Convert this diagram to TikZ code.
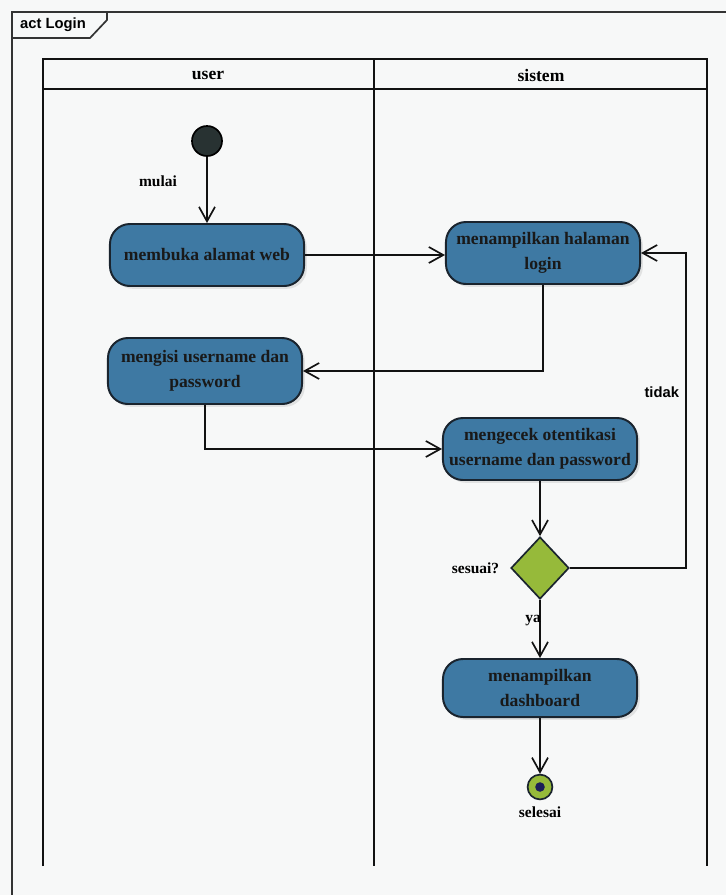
\documentclass[tikz,border=0pt]{standalone}
\usepackage{fontspec}
\setmainfont{Liberation Serif}
\newfontfamily\framesans{Liberation Sans}
\usepackage{tikz}
\usetikzlibrary{shapes.geometric, arrows.meta, positioning, shadows}
\definecolor{laneink}{RGB}{18,18,18}
\definecolor{actblue}{RGB}{62,121,163}
\definecolor{actedge}{RGB}{26,36,46}
\definecolor{guardgreen}{RGB}{150,186,58}
\definecolor{startgrey}{RGB}{40,50,50}
\definecolor{endcore}{RGB}{28,30,88}
\definecolor{paper}{RGB}{247,248,248}

\tikzset{
  actbox/.style={draw=actedge, line width=1.4pt, fill=actblue, rounded corners=0.5cm,
    minimum width=4.85cm, minimum height=1.55cm, align=center, text=black!90,
    font=\fontsize{12.5}{17.5}\selectfont\bfseries,
    drop shadow={opacity=0.18, shadow xshift=0.7mm, shadow yshift=-0.7mm}},
  decide/.style={diamond, draw=actedge, line width=1.2pt, fill=guardgreen,
    minimum width=1.45cm, minimum height=1.55cm, inner sep=0pt},
  flow/.style={-{Straight Barb[length=3.6mm, width=4mm]}, line width=1.2pt, draw=laneink},
  lane/.style={line width=1.8pt, laneink},
  tag/.style={font=\fontsize{11}{13}\selectfont\bfseries, text=black}
}

\begin{document}
\begin{tikzpicture}[x=0.025cm, y=-0.025cm]
    % Page and frame
    \fill[paper] (0,0) rectangle (726,895);
    \useasboundingbox (0,0) rectangle (726,895);
    \draw[line width=1.2pt, black!80] (12,895) -- (12,12) -- (726,12);
    \draw[line width=1.2pt, black!80] (12,38) -- (90,38) -- (107,20) -- (107,12);
    \node[font=\framesans\fontsize{10.5}{12}\selectfont\bfseries] (frametitle) at (53,25) {act Login};

    % Swimlanes
    \draw[lane] (43,866) -- (43,59) -- (707,59) -- (707,866);
    \draw[lane] (43,89) -- (707,89);
    \draw[lane] (374,59) -- (374,866);
    \node[font=\fontsize{12.5}{14}\selectfont\bfseries] (laneuser) at (208,75) {user};
    \node[font=\fontsize{12.5}{14}\selectfont\bfseries] (lanesys) at (541,75) {sistem};

    % Start
    \node[circle, draw=black, line width=1.2pt, fill=startgrey, minimum size=0.75cm, inner sep=0pt] (start) at (207,141) {};
    \node[tag] (mulai) at (158,181) {mulai};

    % Actions
    \node[actbox] (openweb) at (207,255) {membuka alamat web};
    \node[actbox] (showlogin) at (543,253) {menampilkan halaman\\login};
    \node[actbox, minimum height=1.65cm] (fillform) at (205,371) {mengisi username dan\\password};
    \node[actbox] (checkauth) at (540,449) {mengecek otentikasi\\username dan password};

    % Decision
    \node[decide] (valid) at (540,568) {};
    \node[tag, left=0.15cm of valid] (sesuai) {sesuai?};

    \node[actbox, minimum height=1.45cm] (showdash) at (540,688) {menampilkan\\dashboard};

    % End
    \node[circle, draw=actedge, line width=1.2pt, fill=guardgreen, minimum size=0.62cm, inner sep=0pt] (finish) at (540,787) {};
    \fill[endcore] (finish.center) circle (0.12cm);
    \node[tag, below=0.05cm of finish] (selesai) {selesai};

    % Flows
    \coordinate (retry) at (686,568);
    \draw[flow] (start) -- (openweb);
    \draw[flow] (openweb.east) -- (openweb.east -| showlogin.west);
    \draw[flow] (showlogin.south) |- (fillform.east);
    \draw[flow] (fillform.south) |- (checkauth.west);
    \draw[flow] (checkauth) -- (valid);
    \draw[flow] (valid.east) -- (retry) |- (showlogin.east);
    \draw[flow] (valid) -- (showdash);
    \draw[flow] (showdash) -- (finish);

    % Guards
    \node[font=\framesans\fontsize{10.5}{12}\selectfont\bfseries, anchor=east] (tidak) at (684,392) {tidak};
    \node[tag] (ya) at (533,621) {ya};
\end{tikzpicture}
\end{document}
